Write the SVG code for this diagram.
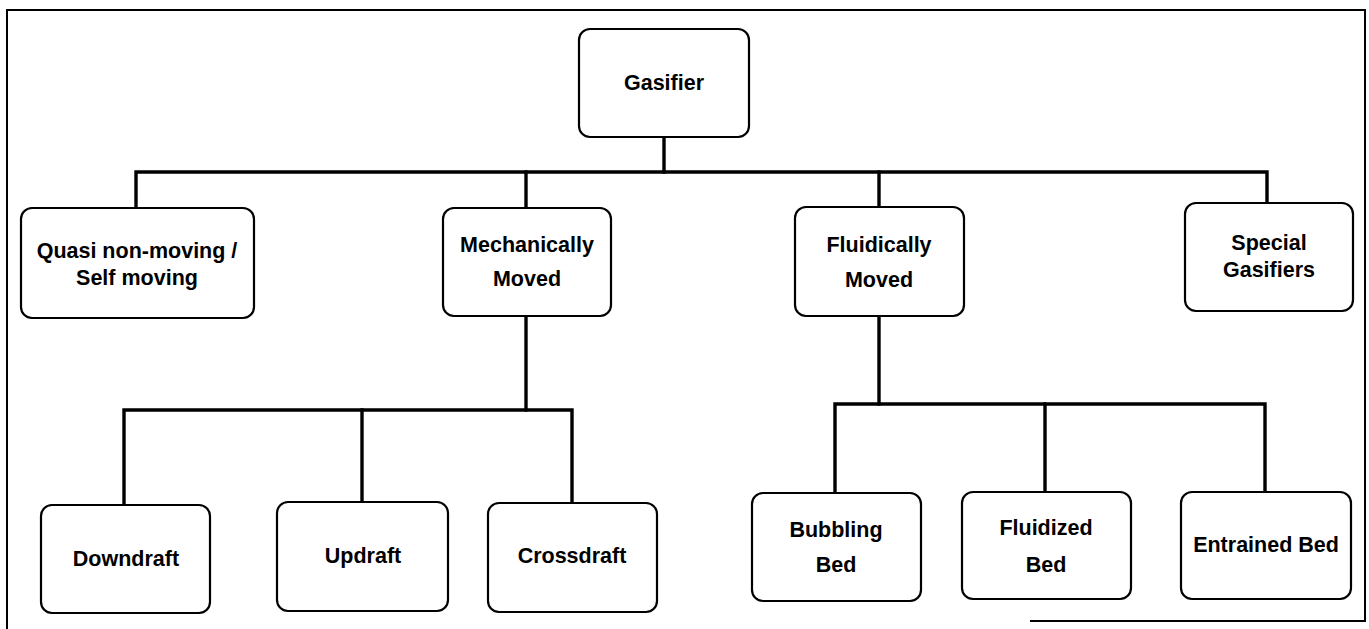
<svg xmlns="http://www.w3.org/2000/svg" width="1369" height="629" viewBox="0 0 1369 629">
<style>
.box{fill:#fff;stroke:#000;stroke-width:2.2}
.t{font-family:"Liberation Sans",Arial,sans-serif;font-weight:bold;font-size:21.5px;fill:#000;text-anchor:middle}
.c{fill:none;stroke:#000;stroke-width:3.4;stroke-linecap:square}
.frame{fill:none;stroke:#000;stroke-width:2}
</style>
<rect width="1369" height="629" fill="#fff"/>
<path class="frame" d="M7,629 V10 H1365 V621 H1030"/>
<g id="connectors">
<path class="c" d="M664,137 V172"/>
<path class="c" d="M136,208 V172 H1267 V203"/>
<path class="c" d="M526,172 V208"/>
<path class="c" d="M879,172 V207"/>
<path class="c" d="M526,316 V410"/>
<path class="c" d="M124,505 V410 H572 V503"/>
<path class="c" d="M362,410 V502"/>
<path class="c" d="M879,316 V404"/>
<path class="c" d="M835,493 V404 H1265 V492"/>
<path class="c" d="M1045,404 V492"/>
</g>
<g id="gasifier">
<rect class="box" x="579" y="29" width="170" height="108" rx="11"/>
<text class="t" x="664" y="90">Gasifier</text>
</g>
<g id="quasi">
<rect class="box" x="21" y="208" width="233" height="110" rx="11"/>
<text class="t" x="137" y="258">Quasi non-moving /</text>
<text class="t" x="137" y="285">Self moving</text>
</g>
<g id="mechanically">
<rect class="box" x="443" y="208" width="168" height="108" rx="11"/>
<text class="t" x="527" y="252">Mechanically</text>
<text class="t" x="527" y="286">Moved</text>
</g>
<g id="fluidically">
<rect class="box" x="795" y="207" width="169" height="109" rx="11"/>
<text class="t" x="879" y="252">Fluidically</text>
<text class="t" x="879" y="287">Moved</text>
</g>
<g id="special">
<rect class="box" x="1185" y="203" width="168" height="108" rx="11"/>
<text class="t" x="1269" y="250">Special</text>
<text class="t" x="1269" y="277">Gasifiers</text>
</g>
<g id="downdraft">
<rect class="box" x="41" y="505" width="169" height="108" rx="11"/>
<text class="t" x="126" y="566">Downdraft</text>
</g>
<g id="updraft">
<rect class="box" x="277" y="502" width="171" height="109" rx="11"/>
<text class="t" x="363" y="563">Updraft</text>
</g>
<g id="crossdraft">
<rect class="box" x="488" y="503" width="169" height="109" rx="11"/>
<text class="t" x="572" y="563">Crossdraft</text>
</g>
<g id="bubbling">
<rect class="box" x="752" y="493" width="169" height="108" rx="11"/>
<text class="t" x="836" y="537">Bubbling</text>
<text class="t" x="836" y="572">Bed</text>
</g>
<g id="fluidized">
<rect class="box" x="962" y="492" width="169" height="107" rx="11"/>
<text class="t" x="1046" y="535">Fluidized</text>
<text class="t" x="1046" y="572">Bed</text>
</g>
<g id="entrained">
<rect class="box" x="1181" y="492" width="170" height="107" rx="11"/>
<text class="t" x="1266" y="552">Entrained Bed</text>
</g>
</svg>
